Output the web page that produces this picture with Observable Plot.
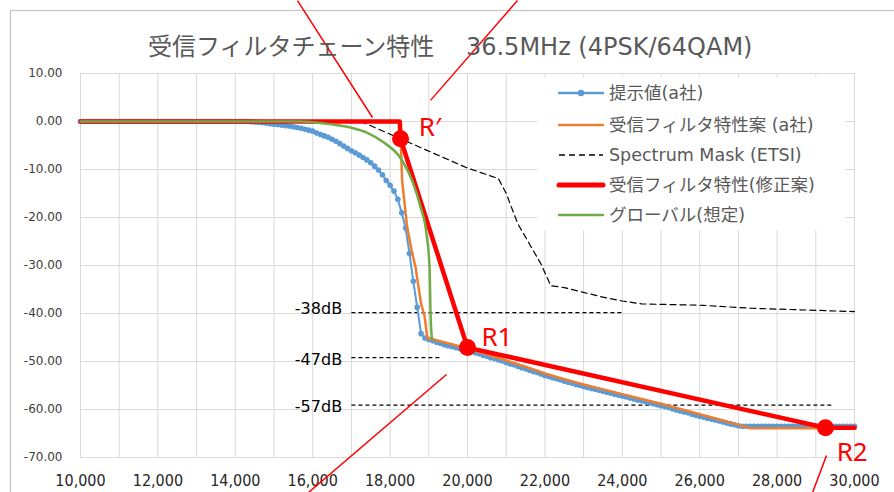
<!DOCTYPE html>
<html>
<head>
<meta charset="utf-8">
<script src="https://cdn.jsdelivr.net/npm/d3@7"></script>
<script src="https://cdn.jsdelivr.net/npm/@observablehq/plot@0.6"></script>
<style>
  html, body { margin: 0; padding: 0; background: #fff; overflow: hidden; }
  #chart svg { display: block; }
</style>
</head>
<body>
<div id="chart"></div>
<script>
// ---------- DATA ----------
const titleText = "受信フィルタチェーン特性\u3000 36.5MHz (4PSK/64QAM)";
const seriesNames = ["提示値(a社)", "受信フィルタ特性案 (a社)", "Spectrum Mask (ETSI)", "受信フィルタ特性(修正案)", "グローバル(想定)"];
const xTicks = [10000, 12000, 14000, 16000, 18000, 20000, 22000, 24000, 26000, 28000, 30000];
const yTicks = [10, 0, -10, -20, -30, -40, -50, -60, -70];

// 提示値(a社): sampled every 100 (kHz) from 10,000 to 30,000
const blueFreq = d3.range(10000, 30001, 100);
const blueDb = [
  0,0,0,0,0,0,0,0,0,0,
  0,0,0,0,0,0,0,0,0,0,
  0,0,0,0,0,0,0,0,0,0,
  0,0,0,0,0,0,0,0,0,0,
  0,0,0,0,-0.05,-0.1,-0.15,-0.25,-0.35,-0.45,
  -0.55,-0.65,-0.75,-0.85,-0.95,-1.1,-1.25,-1.4,-1.6,-1.8,
  -2.0,-2.4,-2.7,-3.0,-3.3,-3.7,-4.1,-4.6,-5.1,-5.6,
  -6.1,-6.5,-7.0,-7.5,-8.0,-8.6,-9.3,-10.1,-11.1,-12.3,
  -13.3,-14.5,-16.2,-19.0,-22.2,-27.5,-33.3,-38.7,-44.2,-45.1,
  -45.4,-45.7,-46.0,-46.2,-46.5,-46.7,-46.9,-47.1,-47.3,-47.5,
  -47.7,-47.9,-48.2,-48.4,-48.7,-48.9,-49.2,-49.4,-49.7,-49.9,
  -50.2,-50.5,-50.7,-51.0,-51.3,-51.5,-51.8,-52.1,-52.3,-52.6,
  -52.9,-53.1,-53.4,-53.6,-53.8,-54.1,-54.3,-54.5,-54.8,-55.0,
  -55.2,-55.4,-55.6,-55.8,-56.0,-56.2,-56.4,-56.6,-56.8,-57.0,
  -57.2,-57.4,-57.6,-57.8,-58.0,-58.2,-58.4,-58.6,-58.8,-59.0,
  -59.2,-59.4,-59.6,-59.9,-60.1,-60.3,-60.5,-60.7,-61.0,-61.2,
  -61.4,-61.6,-61.8,-62.0,-62.2,-62.4,-62.6,-62.8,-63.0,-63.2,
  -63.4,-63.5,-63.5,-63.5,-63.5,-63.5,-63.5,-63.5,-63.5,-63.5,
  -63.5,-63.5,-63.5,-63.5,-63.5,-63.5,-63.5,-63.5,-63.5,-63.5,
  -63.5,-63.5,-63.5,-63.5,-63.5,-63.5,-63.5,-63.5,-63.5,-63.5,
  -63.5
];

// 受信フィルタ特性案 (a社)
const orangeFreq = [10000,18250,18280,18310,18440,18560,18660,18800,18890,18960,19500,20000,20500,21000,21500,22000,22500,23000,23500,24000,24500,25000,25500,26000,26500,27000,27300,30000];
const orangeDb   = [0,0,-5,-12.3,-22,-27,-30.5,-38,-40.5,-45.1,-46.2,-47.3,-48.5,-49.8,-51.1,-52.5,-53.7,-54.8,-55.8,-56.8,-57.8,-58.8,-59.9,-61.0,-62.1,-63.2,-63.9,-63.9];

// Spectrum Mask (ETSI)
const maskFreq = [10000,17250,20000,20800,21000,21300,21900,22150,22500,23500,24000,24500,26100,27300,30000];
const maskDb   = [0,0,-9.7,-11.9,-15,-21.3,-29.7,-34.2,-34.6,-36.6,-37.4,-38.0,-38.3,-38.9,-39.6];

// 受信フィルタ特性(修正案)
const redFreq = [10000,18250,18270,20000,29250,30000];
const redDb   = [0,0,-3.6,-47.1,-63.8,-63.8];

// グローバル(想定)
const greenFreq = [10000,15700,16000,16500,17000,17400,17840,18270,18570,18790,18940,19020,19045,19080];
const greenDb   = [0,0,-0.15,-0.6,-1.3,-2.3,-4.4,-7.6,-12.3,-17.9,-23.4,-30.4,-40,-45.3];

// labelled points R', R1, R2
const pointNames = ["R\u2032", "R1", "R2"];
const pointFreq = [18270, 20000, 29250];
const pointDb = [-3.6, -47.1, -63.8];
const pointLabelFreq = [18740, 20360, 29540];
const pointLabelDb = [-1.3, -45.0, -69.0];

// reference levels
const refNames = ["-38dB", "-47dB", "-57dB"];
const refStart = [17000, 17000, 17000];
const refEnd = [24000, 19300, 29400];
const refDb = [-39.8, -49.2, -59.1];
const refLabelDb = [-39.0, -49.6, -59.4];
const refLabelFreq = 16760;

// red pointer lines (start/end in data units)
const ptrX1 = [15607, 21292, 19457, 29277];
const ptrY1 = [25.2, 25.2, -52.7, -69.6];
const ptrX2 = [17545, 19044, 15891, 28915];
const ptrY2 = [0.83, 4.4, -77.3, -77.3];

// ---------- TABLES ----------
const blue = blueFreq.map((f, i) => ({f, v: blueDb[i]}));
const orange = orangeFreq.map((f, i) => ({f, v: orangeDb[i]}));
const mask = maskFreq.map((f, i) => ({f, v: maskDb[i]}));
const red = redFreq.map((f, i) => ({f, v: redDb[i]}));
const green = greenFreq.map((f, i) => ({f, v: greenDb[i]}));
const pts = pointNames.map((n, i) => ({n, f: pointFreq[i], v: pointDb[i], lf: pointLabelFreq[i], lv: pointLabelDb[i]}));
const refs = refNames.map((n, i) => ({n, x1: refStart[i], x2: refEnd[i], v: refDb[i], lv: refLabelDb[i]}));
const ptrs = ptrX1.map((x, i) => ({x1: x, y1: ptrY1[i], x2: ptrX2[i], y2: ptrY2[i]}));

const C = {blue: "#5B9BD5", orange: "#ED7D31", mask: "#000000", red: "#FF0000", green: "#70AD47"};
const latin = "'DejaVu Sans', 'Noto Sans CJK JP', sans-serif";

const chart = Plot.plot({
  width: 894, height: 492,
  marginLeft: 80, marginRight: 40, marginTop: 73, marginBottom: 35,
  style: {background: "#fff", overflow: "visible", fontFamily: latin},
  x: {domain: [10000, 30000]},
  y: {domain: [-70, 10]},
  marks: [
    Plot.gridX(d3.range(10000, 30001, 1000), {stroke: "#d9d9d9", strokeOpacity: 1, strokeWidth: 1}),
    Plot.gridY(yTicks, {stroke: "#d9d9d9", strokeOpacity: 1, strokeWidth: 1}),
    Plot.axisX(xTicks, {tickSize: 0, tickPadding: 17, tickFormat: d3.format(","), label: null, fontSize: 16, fontFamily: "'DejaVu Sans Condensed', 'DejaVu Sans'", fill: "#262626"}),
    Plot.axisY(yTicks, {tickSize: 0, tickPadding: 18, tickFormat: d => d.toFixed(2), label: null, fontSize: 12, fill: "#404040"}),
    // reference dashed levels
    Plot.link(refs, {x1: "x1", x2: "x2", y1: "v", y2: "v", stroke: "#000", strokeWidth: 1.2, strokeDasharray: "4,3"}),
    Plot.text(refs, {x: refLabelFreq, y: "lv", text: "n", textAnchor: "end", fontSize: 16, fill: "#000"}),
    // series
    Plot.line(blue, {x: "f", y: "v", stroke: C.blue, strokeWidth: 2}),
    Plot.dot(blue, {x: "f", y: "v", r: 2.8, fill: C.blue, stroke: "none"}),
    Plot.line(orange, {x: "f", y: "v", stroke: C.orange, strokeWidth: 2.5}),
    Plot.line(mask, {x: "f", y: "v", stroke: C.mask, strokeWidth: 1.2, strokeDasharray: "6,4"}),
    Plot.line(red, {x: "f", y: "v", stroke: C.red, strokeWidth: 4.5}),
    Plot.line(green, {x: "f", y: "v", stroke: C.green, strokeWidth: 2.5, curve: "monotone-x"}),
    Plot.dot(pts, {x: "f", y: "v", r: 8.5, fill: C.red, stroke: "none"}),
    Plot.text(pts, {x: "lf", y: "lv", text: "n", textAnchor: "start", fontSize: 26, fill: C.red, fontFamily: "'Noto Sans', sans-serif"}),
    Plot.link(ptrs, {x1: "x1", y1: "y1", x2: "x2", y2: "y2", stroke: C.red, strokeWidth: 1.5})
  ]
});

const svg = d3.select(chart);
// chart border
svg.insert("rect", ":first-child").attr("x", 10.5).attr("y", 10.5).attr("width", 900).attr("height", 500)
  .attr("fill", "none").attr("stroke", "#c4c4c4").attr("stroke-width", 1.2);

// title
svg.append("text")
  .attr("x", 148).attr("y", 47)
  .attr("text-anchor", "start")
  .attr("dominant-baseline", "central")
  .attr("font-size", 24).attr("fill", "#595959")
  .attr("font-family", latin)
  .text(titleText);

// legend
const lg = svg.append("g").attr("text-anchor", "start");
lg.append("rect").attr("x", 537).attr("y", 77).attr("width", 308).attr("height", 153).attr("fill", "#fff");
const legendY = [93, 125, 155, 185, 215];
const legendStyle = [
  {stroke: C.blue, w: 2.5, dash: null, dot: true},
  {stroke: C.orange, w: 2.5, dash: null},
  {stroke: C.mask, w: 1.3, dash: "6,4"},
  {stroke: C.red, w: 5, dash: null},
  {stroke: C.green, w: 2.5, dash: null}
];
seriesNames.forEach((name, i) => {
  const s = legendStyle[i];
  const l = lg.append("line").attr("x1", 559).attr("x2", 603).attr("y1", legendY[i]).attr("y2", legendY[i])
    .attr("stroke", s.stroke).attr("stroke-width", s.w).attr("stroke-linecap", "round");
  if (s.dash) l.attr("stroke-dasharray", s.dash).attr("stroke-linecap", "butt");
  if (s.dot) lg.append("circle").attr("cx", 581).attr("cy", legendY[i]).attr("r", 3.2).attr("fill", s.stroke);
  lg.append("text").attr("x", 609).attr("y", legendY[i]).attr("dominant-baseline", "central")
    .attr("text-anchor", "start")
    .attr("font-size", 17.5).attr("fill", "#595959").attr("font-family", latin).text(name);
});

document.getElementById("chart").append(chart);
</script>
</body>
</html>
